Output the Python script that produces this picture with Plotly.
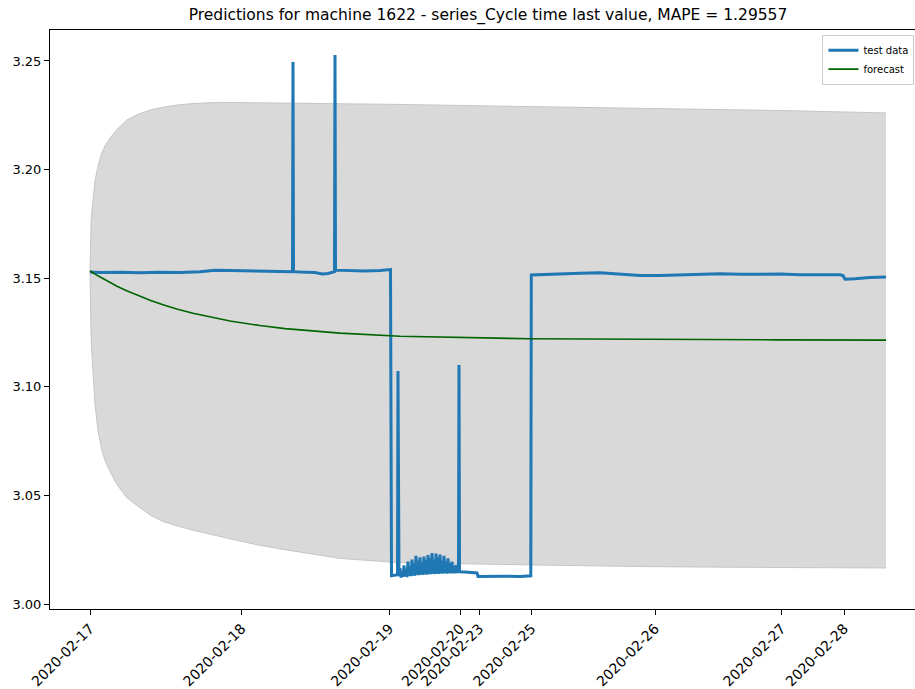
import plotly.graph_objects as go

# ---------------- data ----------------
title_text = "Predictions for machine 1622 - series_Cycle time last value, MAPE = 1.29557"

tick_index = [0, 1517, 2993, 3700, 3893, 4417, 5650, 6917, 7540]
tick_labels = ["2020-02-17", "2020-02-18", "2020-02-19", "2020-02-20", "2020-02-23",
               "2020-02-25", "2020-02-26", "2020-02-27", "2020-02-28"]

noisy_index = list(range(3090, 3690, 10))
noisy_values = [3.0128, 3.0165, 3.0122, 3.0150, 3.0125, 3.0178, 3.0128, 3.0160, 3.0124, 3.0195,
                3.0130, 3.0172, 3.0128, 3.0205, 3.0132, 3.0185, 3.0130, 3.0222, 3.0135, 3.0200,
                3.0133, 3.0215, 3.0136, 3.0190, 3.0134, 3.0218, 3.0137, 3.0200, 3.0135, 3.0225,
                3.0138, 3.0210, 3.0137, 3.0235, 3.0140, 3.0205, 3.0138, 3.0232, 3.0140, 3.0215,
                3.0139, 3.0228, 3.0141, 3.0200, 3.0140, 3.0222, 3.0142, 3.0195, 3.0140, 3.0210,
                3.0142, 3.0188, 3.0141, 3.0195, 3.0142, 3.0175, 3.0141, 3.0180, 3.0143, 3.0160]

test_index = ([0, 100, 300, 500, 700, 900, 1100, 1250, 1400, 1600, 1800, 1950,
               2025, 2030, 2035, 2100, 2250, 2320, 2380, 2445, 2450, 2455,
               2600, 2750, 2900, 2990, 3005, 3015, 3075, 3080, 3085]
              + noisy_index
              + [3685, 3690, 3695, 3750, 3800, 3870, 3880, 4000, 4150, 4300, 4400,
                 4408, 4413, 4500, 4700, 4900, 5100, 5300, 5500, 5700, 5900, 6100,
                 6300, 6500, 6700, 6900, 7100, 7300, 7500, 7530, 7550, 7650, 7800, 7960])
test_values = ([3.1528, 3.1526, 3.1527, 3.1525, 3.1527, 3.1526, 3.1530, 3.1537, 3.1536, 3.1534, 3.1531, 3.1530,
                3.1530, 3.2495, 3.1530, 3.1528, 3.1526, 3.1519, 3.1522, 3.1530, 3.2528, 3.1537,
                3.1536, 3.1533, 3.1536, 3.1540, 3.1540, 3.0130, 3.0135, 3.1073, 3.0135]
               + noisy_values
               + [3.0150, 3.1100, 3.0148, 3.0147, 3.0145, 3.0143, 3.0127, 3.0126, 3.0128, 3.0127, 3.0130,
                  3.0130, 3.1515, 3.1517, 3.1520, 3.1523, 3.1525, 3.1520, 3.1513, 3.1512, 3.1514, 3.1518,
                  3.1520, 3.1518, 3.1520, 3.1519, 3.1516, 3.1517, 3.1516, 3.1512, 3.1495, 3.1497, 3.1503, 3.1505])

forecast_index = [0, 1, 3, 6, 10, 17, 30, 50, 80, 117, 150, 200, 270, 367, 480, 600, 730, 867,
                  1030, 1200, 1400, 1700, 1950, 2500, 3100, 4400, 5600, 6900, 7960]
forecast_values = [3.1533, 3.1533, 3.1532, 3.1531, 3.1530, 3.1528, 3.1524, 3.1519, 3.1511, 3.1501,
                   3.1492, 3.1480, 3.1463, 3.1442, 3.1420, 3.1398, 3.1378, 3.1358, 3.1339, 3.1321,
                   3.1303, 3.1282, 3.1268, 3.1247, 3.1233, 3.1221, 3.1217, 3.1216, 3.1215]
upper_values = [3.1533, 3.1600, 3.1660, 3.1710, 3.1750, 3.1800, 3.1870, 3.1950, 3.2015, 3.2076,
                3.2110, 3.2145, 3.2185, 3.2228, 3.2255, 3.2274, 3.2287, 3.2297, 3.2304, 3.2308,
                3.2309, 3.2308, 3.2305, 3.2303, 3.2300, 3.2290, 3.2282, 3.2272, 3.2261]
lower_values = [3.1533, 3.1460, 3.1390, 3.1320, 3.1250, 3.1170, 3.1060, 3.0920, 3.0800, 3.0710,
                3.0660, 3.0610, 3.0550, 3.0490, 3.0450, 3.0410, 3.0380, 3.0360, 3.0340, 3.0320,
                3.0300, 3.0270, 3.0250, 3.0210, 3.0190, 3.0180, 3.0172, 3.0168, 3.0166]

y_ticks = [3.00, 3.05, 3.10, 3.15, 3.20, 3.25]

# ---------------- figure ----------------
fig = go.Figure()

fig.add_trace(go.Scatter(x=forecast_index, y=upper_values, mode="lines",
                         line=dict(color="#c6c6c6", width=1), showlegend=False,
                         hoverinfo="skip"))
fig.add_trace(go.Scatter(x=forecast_index, y=lower_values, mode="lines", fill="tonexty",
                         fillcolor="#d9d9d9", line=dict(color="#c6c6c6", width=1),
                         showlegend=False, hoverinfo="skip"))

fig.add_trace(go.Scatter(x=test_index, y=test_values, mode="lines", name="test data",
                         line=dict(color="#1f77b4", width=3)))
fig.add_trace(go.Scatter(x=forecast_index, y=forecast_values, mode="lines", name="forecast",
                         line=dict(color="#006400", width=1.6)))

font_family = "DejaVu Sans, sans-serif"

fig.update_layout(
    width=915, height=689,
    margin=dict(l=50, r=0, t=30, b=80, autoexpand=False),
    paper_bgcolor="white", plot_bgcolor="white",
    font=dict(family=font_family, color="black", size=12),
    title=dict(text=title_text, x=488 / 915, xanchor="center", y=1 - 15 / 689, yanchor="middle",
               xref="container", font=dict(size=15.5, family=font_family, color="black")),
    legend=dict(x=0.893, xanchor="left", y=0.992, yanchor="top", traceorder="normal",
                bgcolor="rgba(255,255,255,0.8)", bordercolor="#cccccc", borderwidth=1,
                font=dict(size=10, family=font_family), tracegroupgap=0,
                itemwidth=30),
    showlegend=True,
)

fig.update_xaxes(
    range=[-400, 8250], tickmode="array", tickvals=tick_index, ticktext=tick_labels,
    tickangle=-45, showgrid=False, zeroline=False,
    showline=True, linecolor="black", linewidth=1, mirror=True,
    ticks="outside", ticklen=5, tickcolor="black", tickfont=dict(size=14),
)
fig.update_yaxes(
    range=[2.99770, 3.26427], tickmode="array", tickvals=y_ticks,
    ticktext=[f"{v:.2f}" for v in y_ticks],
    showgrid=False, zeroline=False,
    showline=True, linecolor="black", linewidth=1, mirror=False,
    ticks="outside", ticklen=5, tickcolor="black", tickfont=dict(size=13),
)

fig.write_html("out.html")
